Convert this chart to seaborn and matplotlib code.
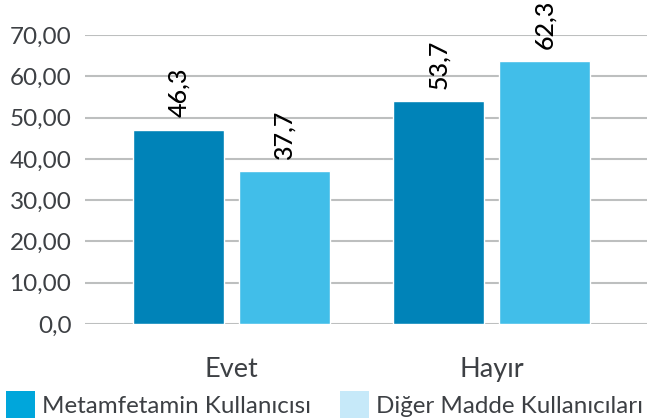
import matplotlib
matplotlib.use("Agg")
import matplotlib.pyplot as plt
from matplotlib.patches import Patch
import seaborn as sns
import pandas as pd

# ---- data ----
categories = ["Evet", "Hayır"]
series = ["Metamfetamin Kullanıcısı", "Diğer Madde Kullanıcıları"]
meth_values = [47.0, 54.0]        # bar heights as drawn
other_values = [37.0, 63.7]
meth_labels = ["46,3", "53,7"]    # value labels as printed
other_labels = ["37,7", "62,3"]
y_ticks = [0, 10, 20, 30, 40, 50, 60, 70]
y_tick_labels = ["0,0", "10,00", "20,00", "30,00", "40,00", "50,00", "60,00", "70,00"]

bar_colors = ["#0083b8", "#41bee9"]
legend_colors = ["#00a6db", "#c6e9f9"]
text_color = "#3d4044"

df = pd.DataFrame({
    "cat": categories * 2,
    "series": [series[0]] * len(categories) + [series[1]] * len(categories),
    "value": meth_values + other_values,
})

sns.set_theme(style="white")
plt.rcParams["font.family"] = ["Lato", "DejaVu Sans"]

fig = plt.figure(figsize=(6.47, 4.2), dpi=100)
ax = fig.add_axes([85.3 / 647, 96 / 420, (647 - 85.3) / 647, 289 / 420])

sns.barplot(data=df, x="cat", y="value", hue="series", hue_order=series,
            order=categories, palette=bar_colors, width=0.815, gap=0.1415,
            saturation=1, legend=False, ax=ax, zorder=3)

ax.set_ylim(0, 70)
ax.set_xlim(-0.562, 1.598)
ax.set_yticks(y_ticks)
ax.set_yticklabels(y_tick_labels, fontsize=17.5, color=text_color)
ax.tick_params(axis="y", length=0, pad=10)
ax.tick_params(axis="x", length=0, pad=24, labelsize=19.5, labelcolor=text_color)
ax.set_xlabel("")
ax.set_ylabel("")
for s in ax.spines.values():
    s.set_visible(False)
ax.yaxis.grid(True, color="#bdbfbf", linewidth=1.5, zorder=0)
ax.set_axisbelow(True)

for cont, labs in zip(ax.containers, [meth_labels, other_labels]):
    txts = ax.bar_label(cont, labels=labs, rotation=90, padding=9.0,
                        fontsize=18, color="black", fontweight="medium")
    for t in txts:
        t.set_clip_on(False)

handles = [Patch(facecolor=c, edgecolor="none") for c in legend_colors]
fig.legend(handles, series, loc="lower left", bbox_to_anchor=(5.7 / 647, 2 / 420),
           ncol=2, frameon=False, handlelength=1.2, handleheight=1.35,
           handletextpad=0.3, columnspacing=1.2, borderpad=0, borderaxespad=0,
           labelcolor=text_color, prop={"size": 17.4})

fig.savefig("out.png", dpi=100)
